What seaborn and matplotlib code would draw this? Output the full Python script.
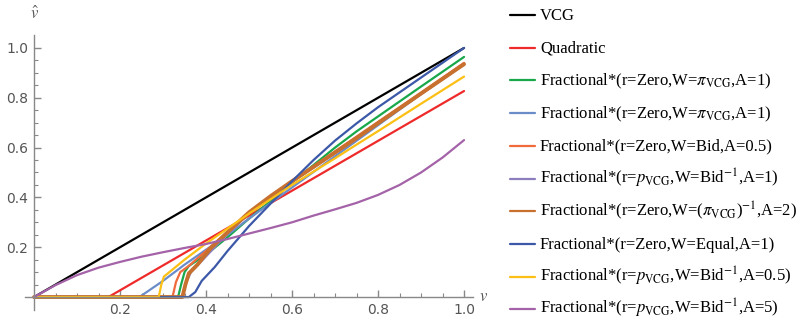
import numpy as np
import pandas as pd
import matplotlib
matplotlib.use("Agg")
import matplotlib.pyplot as plt
from matplotlib.lines import Line2D
import seaborn as sns
from matplotlib.ticker import FixedLocator

sns.set_style("ticks")
plt.rcParams['font.family'] = ['Liberation Serif', 'DejaVu Serif']
plt.rcParams['mathtext.fontset'] = 'stix'

# values
vcg_x = [0.0, 1.0]
vcg_y = [0.0, 1.0]

quad_x = [0.0, 0.173, 1.0]
quad_y = [0.0, 0.0, 0.827]

green_x = [0.0, 0.335, 0.342, 0.35, 0.36, 0.4, 0.45, 0.5, 0.55, 0.6, 0.65, 0.7, 0.75, 0.8, 0.9, 1.0]
green_y = [0.0, 0.0, 0.05, 0.1, 0.125, 0.17, 0.24, 0.315, 0.385, 0.46, 0.53, 0.6, 0.665, 0.725, 0.845, 0.964]

lblue_x = [0.0, 0.245, 0.3, 0.35, 0.4, 0.45, 0.5, 0.6, 0.7, 0.8, 0.9, 1.0]
lblue_y = [0.0, 0.0, 0.065, 0.13, 0.19, 0.25, 0.315, 0.44, 0.565, 0.69, 0.815, 0.935]

orange_x = [0.0, 0.322, 0.33, 0.34, 0.36, 0.4, 0.45, 0.5, 0.6, 0.7, 0.8, 0.9, 1.0]
orange_y = [0.0, 0.0, 0.06, 0.1, 0.125, 0.185, 0.262, 0.34, 0.467, 0.585, 0.703, 0.82, 0.94]

lav_x = [0.0, 0.345, 0.354, 0.365, 0.39, 0.42, 0.45, 0.5, 0.6, 0.7, 0.8, 0.9, 1.0]
lav_y = [0.0, 0.0, 0.06, 0.1, 0.145, 0.2, 0.255, 0.335, 0.462, 0.578, 0.697, 0.815, 0.933]

brown_x = [0.0, 0.345, 0.352, 0.36, 0.38, 0.41, 0.45, 0.5, 0.55, 0.6, 0.7, 0.75, 0.8, 0.9, 1.0]
brown_y = [0.0, 0.0, 0.05, 0.095, 0.13, 0.195, 0.26, 0.34, 0.405, 0.465, 0.58, 0.638, 0.698, 0.817, 0.935]

blue_x = [0.0, 0.36, 0.375, 0.39, 0.42, 0.45, 0.5, 0.55, 0.6, 0.65, 0.7, 0.75, 0.8, 0.9, 1.0]
blue_y = [0.0, 0.0, 0.02, 0.065, 0.12, 0.185, 0.285, 0.375, 0.465, 0.55, 0.628, 0.697, 0.762, 0.881, 1.0]

yellow_x = [0.0, 0.29, 0.296, 0.302, 0.35, 0.4, 0.45, 0.5, 0.6, 0.7, 0.75, 0.8, 0.9, 1.0]
yellow_y = [0.0, 0.0, 0.05, 0.082, 0.15, 0.215, 0.275, 0.335, 0.45, 0.557, 0.612, 0.666, 0.776, 0.885]

purple_x = [0.0, 0.05, 0.1, 0.15, 0.2, 0.25, 0.3, 0.35, 0.4, 0.45, 0.5, 0.55, 0.6, 0.65, 0.7, 0.75, 0.8, 0.85, 0.9, 0.95, 1.0]
purple_y = [0.0, 0.048, 0.088, 0.118, 0.141, 0.162, 0.18, 0.197, 0.213, 0.233, 0.255, 0.277, 0.3, 0.327, 0.352, 0.378, 0.41, 0.45, 0.5, 0.56, 0.63]

labels = [
    "VCG",
    "Quadratic",
    r"Fractional*(r=Zero,W=$\pi_{\mathrm{VCG}}$,A=1)",
    r"Fractional*(r=Zero,W=$\pi_{\mathrm{VCG}}$,A=1)",
    "Fractional*(r=Zero,W=Bid,A=0.5)",
    r"Fractional*(r=$p_{\mathrm{VCG}}$,W=Bid$^{\mathrm{-1}}$,A=1)",
    r"Fractional*(r=Zero,W=($\pi_{\mathrm{VCG}}$)$^{\mathrm{-1}}$,A=2)",
    "Fractional*(r=Zero,W=Equal,A=1)",
    r"Fractional*(r=$p_{\mathrm{VCG}}$,W=Bid$^{\mathrm{-1}}$,A=0.5)",
    r"Fractional*(r=$p_{\mathrm{VCG}}$,W=Bid$^{\mathrm{-1}}$,A=5)",
]
colors = ["#000000", "#ee2a2a", "#18a84a", "#6a8cc8", "#f06a3c",
          "#8c7dbd", "#c8702e", "#3c58a8", "#fcbf14", "#a463a8"]
widths = [1.6, 1.6, 1.6, 1.6, 1.6, 1.6, 2.8, 1.6, 1.6, 1.6]

series = [(vcg_x, vcg_y), (quad_x, quad_y), (green_x, green_y), (lblue_x, lblue_y),
          (orange_x, orange_y), (lav_x, lav_y), (brown_x, brown_y), (blue_x, blue_y),
          (yellow_x, yellow_y), (purple_x, purple_y)]

W, H = 800, 322
fig = plt.figure(figsize=(W / 100, H / 100), dpi=100)
ax = fig.add_axes([0.0318, 0.0388, 0.559, 0.851])

for (xs, ys), lab, c, lw in zip(series, labels, colors, widths):
    df = pd.DataFrame({"v": xs, "vhat": ys})
    sns.lineplot(data=df, x="v", y="vhat", ax=ax, color=c, lw=lw,
                 estimator=None, sort=False, solid_joinstyle="round")

ax.set_xlim(-0.02, 1.02)
ax.set_ylim(-0.05, 1.05)
ax.spines['left'].set_position(('data', 0))
ax.spines['bottom'].set_position(('data', 0))
ax.spines['top'].set_visible(False)
ax.spines['right'].set_visible(False)
for s in ['left', 'bottom']:
    ax.spines[s].set_color('#888888')
    ax.spines[s].set_linewidth(1.0)

majors = [0.2, 0.4, 0.6, 0.8, 1.0]
minors = [m for m in np.arange(0.05, 1.01, 0.05) if min(abs(m - t) for t in majors) > 1e-6]
for axis in [ax.xaxis, ax.yaxis]:
    axis.set_major_locator(FixedLocator(majors))
    axis.set_minor_locator(FixedLocator(minors))
ax.set_xticklabels(["0.2", "0.4", "0.6", "0.8", "1.0"])
ax.set_yticklabels(["0.2", "0.4", "0.6", "0.8", "1.0"])
ax.tick_params(which='major', direction='in', length=5, width=1.0, color='#888888',
               labelsize=10, labelcolor='#555555', pad=4)
ax.tick_params(which='minor', direction='in', length=3, width=0.8, color='#888888')
for t in ax.get_xticklabels() + ax.get_yticklabels():
    t.set_family('DejaVu Sans')
ax.set_xlabel("")
ax.set_ylabel("")

ax.text(1.045, 0.0, "$v$", transform=ax.transData, fontsize=12, color='#555555',
        va='center', ha='center')
ax.text(0.0, 1.1, r"$\hat{v}$", transform=ax.transData, fontsize=12, color='#555555',
        va='bottom', ha='center', clip_on=False)

# legend laid out by hand, evenly spaced rows like the reference
row0, step = 15, 32.7
for i, (lab, c) in enumerate(zip(labels, colors)):
    yp = row0 + i * step
    yf = 1 - yp / H
    fig.add_artist(Line2D([510 / W, 535 / W], [yf, yf], color=c, lw=1.6,
                          transform=fig.transFigure))
    fig.text(540 / W, 1 - (yp + 5) / H, lab, fontsize=12, color='black',
             ha='left', va='baseline')

fig.savefig("out.png", dpi=100)
